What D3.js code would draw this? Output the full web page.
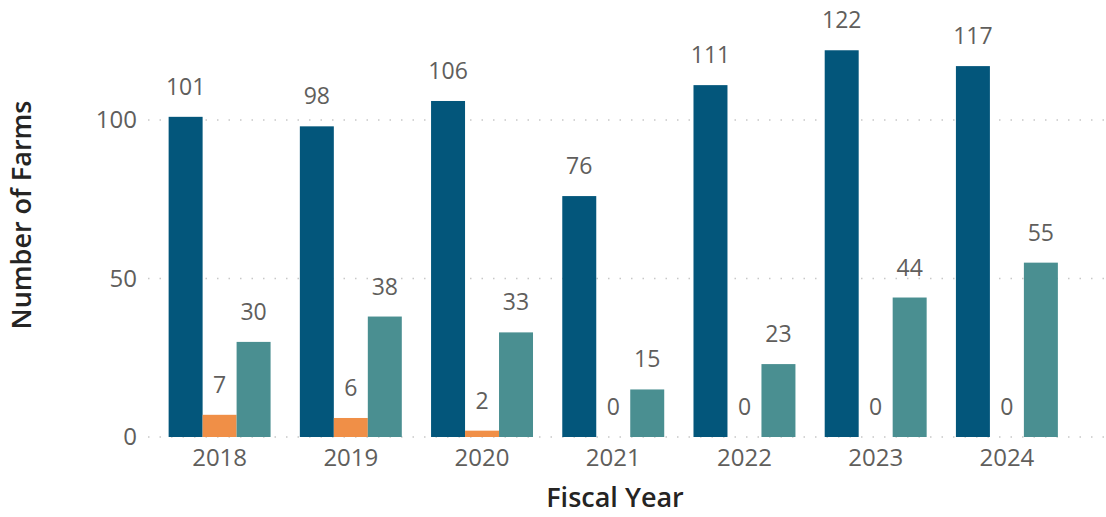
<!DOCTYPE html>
<html>
<head>
<meta charset="utf-8">
<script src="https://cdn.jsdelivr.net/npm/d3@7"></script>
<style>
  body { margin: 0; background: #fff; }
  svg { display: block; font-family: "Open Sans", sans-serif; }
</style>
</head>
<body>
<div id="chart"></div>
<script>
// categories and series
const years = ['2018', '2019', '2020', '2021', '2022', '2023', '2024'];
const seriesNames = ['s1', 's2', 's3'];
const s1 = [101, 98, 106, 76, 111, 122, 117];
const s2 = [7, 6, 2, 0, 0, 0, 0];
const s3 = [30, 38, 33, 15, 23, 44, 55];
const yTicks = [0, 50, 100];
const colors = ['#03567B', '#F08F47', '#4A8F91'];

const W = 1106, H = 517;
const svg = d3.select('#chart').append('svg')
    .attr('width', W)
    .attr('height', H);

const x = d3.scaleBand()
    .domain(years)
    .range([154, 1072.5])
    .paddingInner(0.223)
    .paddingOuter(0.1115);

const xs = d3.scaleBand()
    .domain(seriesNames)
    .range([0, x.bandwidth()]);

const y = d3.scaleLinear()
    .domain([0, 125])
    .range([437, 40.75]);

// gridlines
svg.append('g')
    .selectAll('line')
    .data(yTicks)
    .enter()
    .append('line')
    .attr('x1', 148)
    .attr('x2', W)
    .attr('y1', d => y(d))
    .attr('y2', d => y(d))
    .attr('stroke', '#c8c8c8')
    .attr('stroke-width', 1.5)
    .attr('stroke-dasharray', '1.5,10');

// y axis labels
const yAxis = d3.axisLeft(y).tickValues(yTicks).tickSize(0).tickPadding(0);
svg.append('g')
    .attr('transform', 'translate(137,0)')
    .call(yAxis)
    .call(g => g.select('.domain').remove())
    .call(g => g.selectAll('text')
        .attr('fill', '#605E5C')
        .style('font-size', '24px')
        .style('font-family', '"Open Sans", sans-serif'));

// x axis labels
const xAxis = d3.axisBottom(x).tickSize(0).tickPadding(0);
svg.append('g')
    .attr('transform', 'translate(0,449)')
    .call(xAxis)
    .call(g => g.select('.domain').remove())
    .call(g => g.selectAll('text')
        .attr('fill', '#605E5C')
        .style('font-size', '24px')
        .style('font-family', '"Open Sans", sans-serif'));

// bars
const rows = years.map((yr, i) => ({ year: yr, vals: [s1[i], s2[i], s3[i]] }));
const groups = svg.selectAll('g.grp')
    .data(rows)
    .enter()
    .append('g')
    .attr('class', 'grp')
    .attr('transform', d => `translate(${x(d.year)},0)`);

groups.selectAll('rect')
    .data(d => d.vals.map((v, k) => ({ key: seriesNames[k], v, k })))
    .enter()
    .append('rect')
    .attr('x', d => xs(d.key))
    .attr('width', xs.bandwidth())
    .attr('y', d => y(d.v))
    .attr('height', d => y(0) - y(d.v))
    .attr('fill', d => colors[d.k]);

groups.selectAll('text')
    .data(d => d.vals.map((v, k) => ({ key: seriesNames[k], v, k })))
    .enter()
    .append('text')
    .attr('x', d => xs(d.key) + xs.bandwidth() / 2)
    .attr('y', d => y(d.v) - 22)
    .attr('text-anchor', 'middle')
    .attr('fill', '#605E5C')
    .style('font-size', '23px')
    .text(d => d.v);

// axis titles
svg.append('text')
    .attr('transform', 'translate(31,215) rotate(-90)')
    .attr('text-anchor', 'middle')
    .attr('fill', '#252423')
    .style('font-size', '27px')
    .style('font-weight', '600')
    .text('Number of Farms');

svg.append('text')
    .attr('x', 615)
    .attr('y', 507)
    .attr('text-anchor', 'middle')
    .attr('fill', '#252423')
    .style('font-size', '27px')
    .style('font-weight', '600')
    .text('Fiscal Year');
</script>
</body>
</html>
